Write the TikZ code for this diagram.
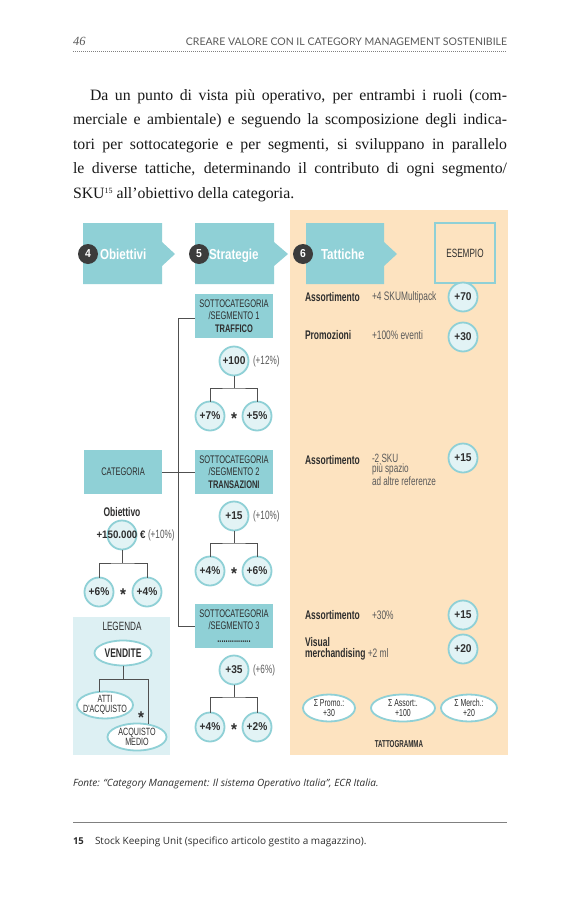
\documentclass[tikz,border=0pt]{standalone}
\usepackage{fontspec}
\setmainfont{Liberation Serif}
\newfontfamily\cnd[FakeStretch=0.68]{Liberation Sans}
\newfontfamily\cnt[FakeStretch=0.8]{Liberation Sans}
\newfontfamily\cnx[FakeStretch=0.9]{Liberation Sans}
\newfontfamily\cnn[FakeStretch=0.62]{Liberation Sans}
\newfontfamily\hum{Open Sans}
\newfontfamily\hdr{Lato}
\usetikzlibrary{shapes.geometric}
\definecolor{teal1}{HTML}{8FD0D6}
\definecolor{circfill}{HTML}{E2F3F5}
\definecolor{legbg}{HTML}{DDF0F3}
\definecolor{peach}{HTML}{FDE3C0}
\definecolor{darkc}{HTML}{3C3C3C}
\definecolor{txt}{HTML}{2E2E2E}
\definecolor{linec}{HTML}{505050}
\definecolor{hgray}{HTML}{5A5A5A}
\begin{document}
\begin{tikzpicture}[x=1pt,y=-1pt,
  every node/.style={inner sep=0pt, outer sep=0pt, text=txt},
  box/.style={fill=teal1, minimum width=78pt, minimum height=44pt, align=center, font=\cnd\fontsize{11}{12.4}\selectfont},
  val/.style={circle, fill=circfill, draw=teal1, line width=1.8pt, minimum size=29pt, font=\cnx\bfseries\fontsize{11.3}{12}\selectfont},
  num/.style={circle, fill=darkc, minimum size=20pt, text=white, font=\cnx\bfseries\fontsize{11.5}{12}\selectfont},
  ttl/.style={text=white, anchor=base west, font=\cnt\bfseries\fontsize{14.5}{16}\selectfont},
  pct/.style={anchor=west, font=\cnd\fontsize{12}{12}\selectfont, text=hgray},
  conn/.style={draw=linec, line width=0.9pt},
  lbl/.style={anchor=west, font=\cnd\bfseries\fontsize{12.5}{13}\selectfont, align=left},
  desc/.style={anchor=west, font=\cnd\fontsize{12.3}{12}\selectfont, align=left, text=hgray},
  leg/.style={ellipse, draw=teal1, fill=white, line width=1.8pt, align=center, inner xsep=-4pt, inner ysep=-2pt},
  astk/.style={font=\cnx\bfseries\fontsize{17}{17}\selectfont},
  body/.style={anchor=base west, font=\fontsize{15.8}{19}\selectfont, text=black!90},
]
\useasboundingbox (0,0) rectangle (580,902);
\fill[white] (0,0) rectangle (580,902);

% header
\node[anchor=base west, font=\itshape\fontsize{12.5}{14}\selectfont, text=hgray] (pg) at (73,45) {46};
\node[anchor=base east, font=\hdr\fontsize{10.5}{12}\selectfont, text=hgray] (hd) at (507,45) {CREARE VALORE CON IL CATEGORY MANAGEMENT SOSTENIBILE};
\draw[gray, line width=0.6pt, dash pattern=on 1pt off 1pt] (73,51) -- (507,51);

% paragraph
\node[body] (l1) at (90,100) {\makebox[417pt][s]{Da un punto di vista più operativo, per entrambi i ruoli (com-}};
\node[body] (l2) at (73,124.5) {\makebox[434pt][s]{merciale e ambientale) e seguendo la scomposizione degli indica-}};
\node[body] (l3) at (73,149) {\makebox[434pt][s]{tori per sottocategorie e per segmenti, si sviluppano in parallelo}};
\node[body] (l4) at (73,173.5) {\makebox[434pt][s]{le diverse tattiche, determinando il contributo di ogni segmento/}};
\node[body] (l5) at (73,198) {SKU\raisebox{4.5pt}{\fontsize{8}{8}\selectfont 15} all’obiettivo della categoria.};

% backgrounds
\fill[peach] (290,210) rectangle (508,755);
\fill[legbg] (73,617) rectangle (170,755);

% header arrows
\fill[teal1] (83,223) -- (162,223) -- (162,242) -- (175,254) -- (162,266) -- (162,284) -- (83,284) -- cycle;
\fill[teal1] (195,223) -- (274,223) -- (274,242) -- (288,254) -- (274,266) -- (274,284) -- (195,284) -- cycle;
\fill[teal1] (306,223) -- (384,223) -- (384,242) -- (397,254) -- (384,266) -- (384,284) -- (306,284) -- cycle;
\node[num] (n4) at (88,254) {4};
\node[ttl] (t4) at (100,259) {Obiettivi};
\node[num] (n5) at (199,254) {5};
\node[ttl] (t5) at (209,259) {Strategie};
\node[num] (n6) at (303,254) {6};
\node[ttl] (t6) at (321,259) {Tattiche};
\node[draw=teal1, line width=1.5pt, minimum width=60pt, minimum height=60pt, font=\cnd\fontsize{12}{12}\selectfont] (es) at (465,253) {ESEMPIO};

% boxes
\node[box] (cat) at (123,472) {CATEGORIA};
\node[box] (s1) at (234,316) {SOTTOCATEGORIA\\/SEGMENTO 1\\\textbf{TRAFFICO}};
\node[box] (s2) at (234,472) {SOTTOCATEGORIA\\/SEGMENTO 2\\\textbf{TRANSAZIONI}};
\node[box] (s3) at (234,626) {SOTTOCATEGORIA\\/SEGMENTO 3\\\textbf{................}};
\coordinate (tt) at (178,318);
\coordinate (tb) at (178,626);
\draw[conn] (s1.west |- tt) -- (tt) -- (tb) -- (s3.west);
\draw[conn] (cat.east) -- (s2.west);

% objective tree
\node[font=\cnd\bfseries\fontsize{12.5}{12}\selectfont] (ob) at (122,512) {Obiettivo};
\node[val] (cobj) at (122,535) {};
\node[font=\cnx\bfseries\fontsize{10.8}{12}\selectfont] (objv) at (121,535) {+150.000 €};
\node[pct] (objp) at (148,535) {(+10\%)};
\coordinate (jo) at (122,563);
\node[val] (c6o) at (99,592) {+6\%};
\node[val] (c4o) at (147,592) {+4\%};
\node[astk] (so) at (123,595) {*};
\draw[conn] (cobj) -- (jo);
\draw[conn] (c6o) |- (jo) -| (c4o);

% segment 1 tree
\node[val] (c100) at (234,361) {+100};
\node[pct] (p100) at (253,361) {(+12\%)};
\coordinate (j1) at (234,388);
\node[val] (c7) at (210,416) {+7\%};
\node[val] (c5) at (257,416) {+5\%};
\node[astk] (s1s) at (234,419) {*};
\draw[conn] (c100) -- (j1);
\draw[conn] (c7) |- (j1) -| (c5);

% segment 2 tree
\node[val] (c15) at (234,516) {+15};
\node[pct] (p15) at (253,516) {(+10\%)};
\coordinate (j2) at (234,543);
\node[val] (c4a) at (210,571) {+4\%};
\node[val] (c6a) at (257,571) {+6\%};
\node[astk] (s2s) at (234,574) {*};
\draw[conn] (c15) -- (j2);
\draw[conn] (c4a) |- (j2) -| (c6a);

% segment 3 tree
\node[val] (c35) at (234,670) {+35};
\node[pct] (p35) at (253,670) {(+6\%)};
\coordinate (j3) at (234,697);
\node[val] (c4b) at (210,727) {+4\%};
\node[val] (c2b) at (257,727) {+2\%};
\node[astk] (s3s) at (234,730) {*};
\draw[conn] (c35) -- (j3);
\draw[conn] (c4b) |- (j3) -| (c2b);

% legend
\node[font=\cnd\fontsize{12}{12}\selectfont] (lg) at (122,626) {LEGENDA};
\node[leg, minimum width=57pt, minimum height=25pt, font=\cnd\bfseries\fontsize{12.5}{12}\selectfont] (vend) at (123,653) {VENDITE};
\node[leg, minimum width=56pt, minimum height=27pt, font=\cnd\fontsize{10.5}{10.5}\selectfont] (atti) at (105,705) {ATTI\\D'ACQUISTO};
\node[leg, minimum width=59pt, minimum height=27pt, font=\cnd\fontsize{10.5}{10.5}\selectfont] (acqm) at (137,737) {ACQUISTO\\MEDIO};
\coordinate (lj) at (123,679);
\coordinate (ljl) at (99,679);
\coordinate (ljr) at (148,679);
\draw[conn] (vend) -- (lj);
\draw[conn] (ljl) -- (ljr);
\draw[conn] (ljl) -- (ljl |- atti.north);
\draw[conn] (ljr) -- (ljr |- acqm.north);
\node[astk] (ls) at (141,718) {*};

% tactics
\node[lbl] (a1) at (305,297) {Assortimento};
\node[desc] (d1) at (372,297) {+4 SKUMultipack};
\node[val] (v70) at (463,297) {+70};
\node[lbl] (a2) at (305,335) {Promozioni};
\node[desc] (d2) at (372,335) {+100\% eventi};
\node[val] (v30) at (463,337) {+30};

\node[lbl] (a3) at (305,460) {Assortimento};
\node[desc, anchor=north west, font=\cnd\fontsize{12}{10.5}\selectfont] (d3) at (372,454) {-2 SKU\\più spazio\\ad altre referenze};
\node[val] (v15a) at (463,458) {+15};

\node[lbl] (a4) at (305,615) {Assortimento};
\node[desc] (d4) at (372,615) {+30\%};
\node[val] (v15b) at (463,615) {+15};
\node[desc, font=\cnd\fontsize{12.5}{11.5}\selectfont] (a5) at (305,649) {\textcolor{txt}{\bfseries Visual}\\\textcolor{txt}{\bfseries merchandising} \fontsize{12.3}{11.5}\selectfont+2 ml};
\node[val] (v20) at (463,649) {+20};

\node[leg, minimum width=52pt, minimum height=27pt, font=\cnd\fontsize{10.2}{10.5}\selectfont] (sp) at (329,708) {Σ Promo.:\\+30};
\node[leg, minimum width=64pt, minimum height=27pt, font=\cnd\fontsize{10.2}{10.5}\selectfont] (sa) at (403,708) {Σ Assort:.\\+100};
\node[leg, minimum width=56pt, minimum height=27pt, font=\cnd\fontsize{10.2}{10.5}\selectfont] (sm) at (469,708) {Σ Merch.:\\+20};
\node[font=\cnn\bfseries\fontsize{10}{11}\selectfont] (tg) at (399,744) {TATTOGRAMMA};

% footer
\node[anchor=base west, font=\hum\itshape\fontsize{10}{12}\selectfont, text=txt] (fonte) at (73,786) {Fonte: “Category Management: Il sistema Operativo Italia”, ECR Italia.};
\draw[gray, line width=0.8pt] (73,822) -- (507,822);
\node[anchor=base west, font=\hum\bfseries\fontsize{9.5}{12}\selectfont] (fn) at (73,844) {15};
\node[anchor=base west, font=\hum\fontsize{10}{12}\selectfont] (fnt) at (95,844) {Stock Keeping Unit (specifico articolo gestito a magazzino).};
\end{tikzpicture}
\end{document}
